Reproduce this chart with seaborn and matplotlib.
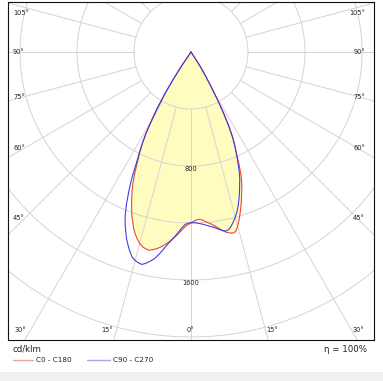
import numpy as np
import pandas as pd
import matplotlib.pyplot as plt
from matplotlib.lines import Line2D
from matplotlib.patches import Rectangle
import seaborn as sns

# Ángulos gamma en grados, de -35 a 34 (negativo = semiplano izquierdo)
gamma = list(range(-35, 35))

c0_c180 = [0, 120, 235, 345, 455, 545, 650, 728, 795, 855,
           930, 1000, 1058, 1110, 1163, 1215, 1258, 1302, 1337, 1366,
           1390, 1408, 1417, 1422, 1414, 1402, 1388, 1370, 1350, 1328,
           1304, 1279, 1253, 1228, 1212, 1200, 1187, 1178, 1176, 1183,
           1196, 1207, 1219, 1236, 1254, 1272, 1288, 1298, 1305, 1298,
           1265, 1225, 1180, 1135, 1088, 1040, 995, 940, 868, 790,
           730, 668, 585, 490, 390, 290, 212, 150, 87, 0]
c90_c270 = [0, 120, 235, 345, 455, 545, 650, 730, 805, 885,
            990, 1075, 1158, 1232, 1290, 1340, 1388, 1428, 1465, 1497,
            1515, 1525, 1530, 1515, 1495, 1472, 1438, 1400, 1362, 1330,
            1300, 1268, 1236, 1212, 1201, 1198, 1198, 1201, 1206, 1212,
            1220, 1228, 1236, 1248, 1260, 1272, 1280, 1274, 1254, 1228,
            1200, 1168, 1130, 1088, 1045, 998, 955, 902, 845, 785,
            728, 668, 585, 490, 390, 290, 212, 150, 87, 0]

planos = ['C0 - C180', 'C90 - C270']
colores = ['#ee3a2a', '#3535e8']
colores_leyenda = ['#e8a4a4', '#a8a8e6']

anillos = [400, 800, 1200, 1600, 2000, 2400]
anillos_etiqueta = [800, 1600]
rayos = list(range(0, 360, 15))
angulos_lado = [105, 90, 75, 60, 45]
angulos_base = [30, 15, 0, 15, 30]
unidad = 'cd/klm'
rendimiento = 'η = 100%'

# Geometría en píxeles de la imagen (centro del diagrama y escala)
W, H = 383, 381
CX, CY, S = 191, 52, 0.1425


def px2data(px, py):
    return (px - CX) / S, (CY - py) / S


# Tabla larga para seaborn
filas = []
for plano, valores in zip(planos, [c0_c180, c90_c270]):
    for g, i in zip(gamma, valores):
        filas.append({'plano': plano,
                      'x': i * np.sin(np.radians(g)),
                      'y': -i * np.cos(np.radians(g))})
df = pd.DataFrame(filas)

sns.set_style('white')
plt.rcParams['font.family'] = ['DejaVu Sans']

fig = plt.figure(figsize=(W / 100, H / 100), dpi=100)
ax = fig.add_axes([8 / W, (H - 340) / H, 366 / W, 338 / H])

x0, y1 = px2data(8, 2)
x1, y0 = px2data(374, 340)
ax.set_xlim(x0, x1)
ax.set_ylim(y0, y1)

# Relleno bajo la curva C0 - C180
rojo = df[df['plano'] == planos[0]]
ax.fill(rojo['x'], rojo['y'], color='#fffcc0', zorder=1, lw=0)

# Rejilla polar
t = np.linspace(0, 2 * np.pi, 721)
for r in anillos:
    ax.plot(r * np.cos(t), r * np.sin(t), color='#d4d4d4', lw=0.7, zorder=2)
for a in rayos:
    ra = np.radians(a)
    ax.plot([400 * np.sin(ra), 3000 * np.sin(ra)],
            [-400 * np.cos(ra), -3000 * np.cos(ra)],
            color='#d4d4d4', lw=0.7, zorder=2)

for r in anillos_etiqueta:
    ax.text(0, -(r + 20), str(r), ha='center', va='center', fontsize=4.8,
            color='#222222', zorder=4)

# Curvas fotométricas
sns.lineplot(data=df, x='x', y='y', hue='plano', hue_order=planos,
             palette=colores, sort=False, estimator=None, legend=False,
             linewidth=0.8, alpha=0.95, ax=ax, zorder=3)

# Etiquetas de ángulo
lado_y = [13, 52, 97, 148, 218.5]
for a, py in zip(angulos_lado, lado_y):
    xl, yl = px2data(13, py)
    ax.text(xl, yl, f'{a}°', ha='left', va='center', fontsize=4.8, color='#222222')
    xr, yr = px2data(365, py)
    ax.text(xr, yr, f'{a}°', ha='right', va='center', fontsize=4.8, color='#222222')
base_x = [20, 107, 190.5, 271.7, 358.3]
for a, px in zip(angulos_base, base_x):
    xb, yb = px2data(px, 330)
    ax.text(xb, yb, f'{a}°', ha='center', va='center', fontsize=4.8, color='#222222')

ax.set_xticks([])
ax.set_yticks([])
ax.set_xlabel('')
ax.set_ylabel('')
for sp in ax.spines.values():
    sp.set_color('#111111')
    sp.set_linewidth(0.8)

# Textos y leyenda bajo el diagrama
fig.text(12.5 / W, 1 - 349.5 / H, unidad, ha='left', va='center', fontsize=6.2,
         color='#222222')
fig.text(367 / W, 1 - 349.5 / H, rendimiento, ha='right', va='center',
         fontsize=6.2, color='#222222')
ley_x = [(12.7, 33.3, 36.5), (87.3, 110, 113.3)]
for (xa, xb, xt), col, lab in zip(ley_x, colores_leyenda, planos):
    fig.add_artist(Line2D([xa / W, xb / W], [1 - 360 / H, 1 - 360 / H],
                          color=col, lw=1.0, transform=fig.transFigure))
    fig.text(xt / W, 1 - 360 / H, lab, ha='left', va='center', fontsize=5.2,
             color='#222222')

fig.add_artist(Rectangle((0, 0), 1, 9.5 / H, transform=fig.transFigure,
                         color='#f0f0f0', lw=0))

fig.savefig('out.png', dpi=100)
